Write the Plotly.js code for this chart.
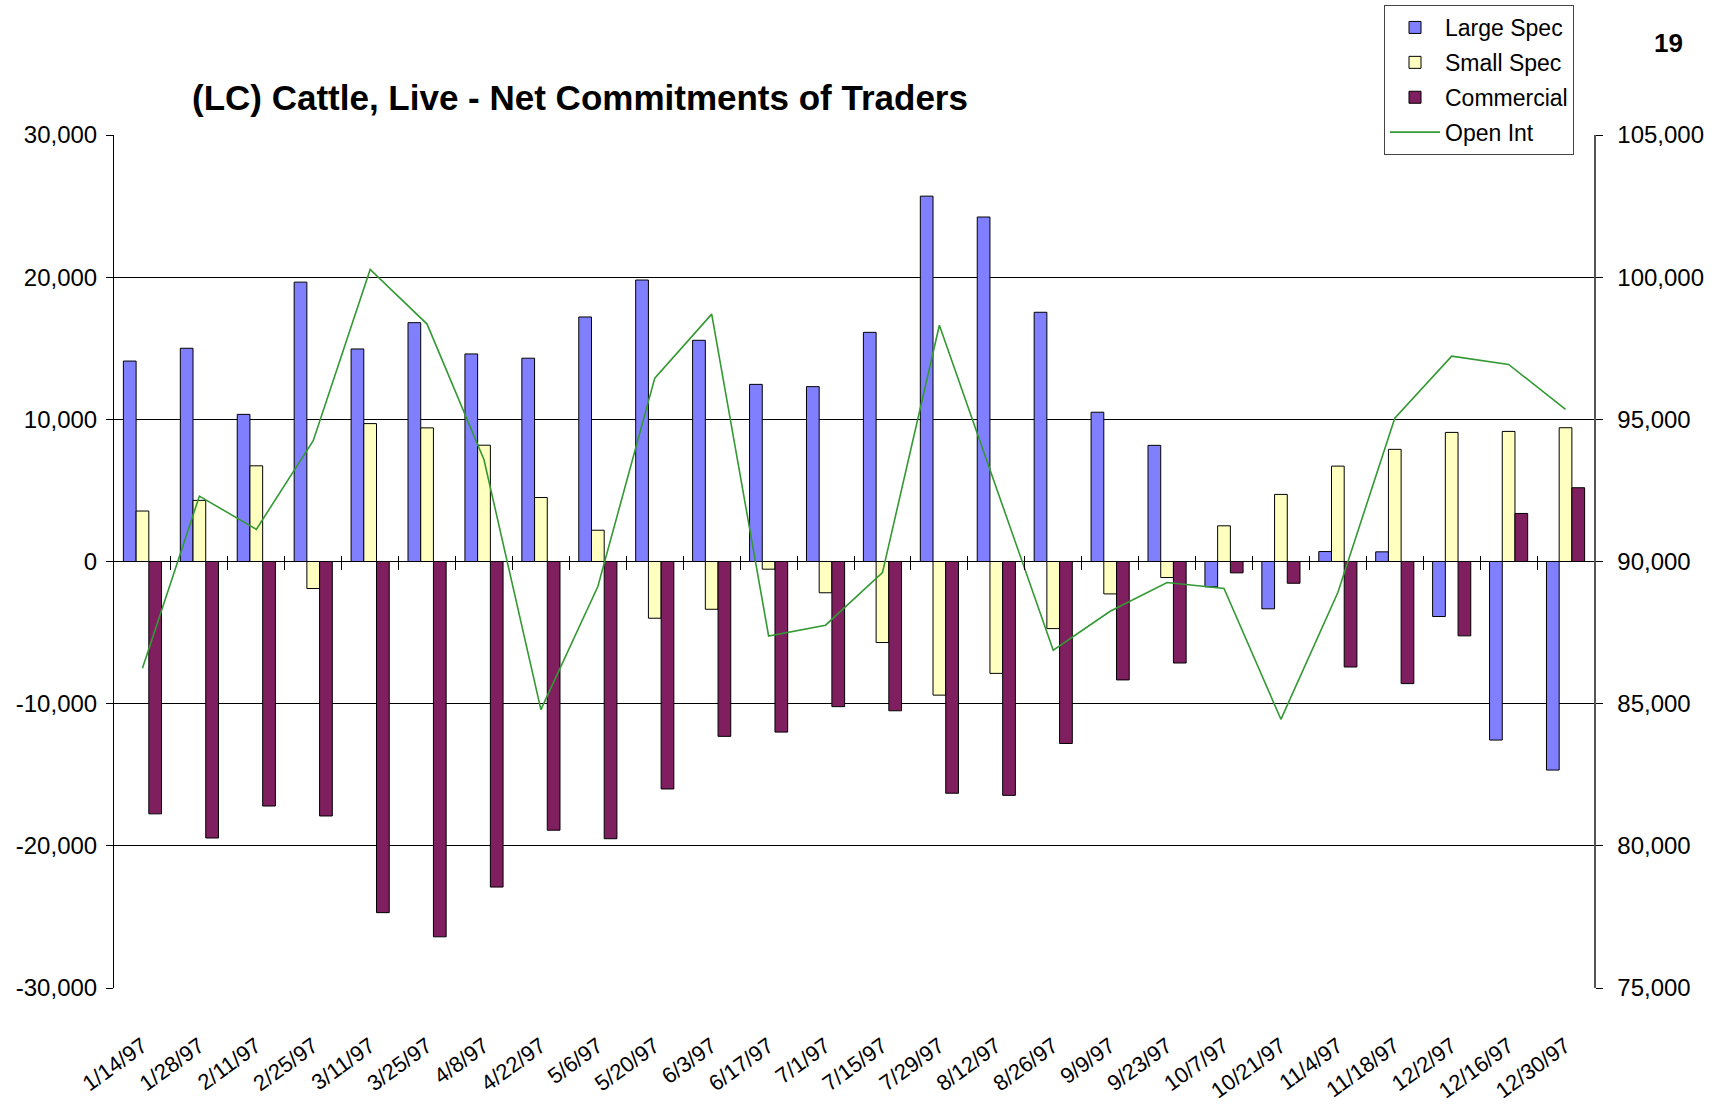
<!DOCTYPE html>
<html>
<head>
<meta charset="utf-8">
<script src="https://cdn.plot.ly/plotly-3.0.1.min.js"></script>
<style>
  html, body { margin: 0; padding: 0; background: #ffffff; }
  #chart { width: 1722px; height: 1108px; }
</style>
</head>
<body>
<div id="chart"></div>
<script>
const categories = ['1/14/97','1/28/97','2/11/97','2/25/97','3/11/97','3/25/97','4/8/97','4/22/97','5/6/97','5/20/97','6/3/97','6/17/97','7/1/97','7/15/97','7/29/97','8/12/97','8/26/97','9/9/97','9/23/97','10/7/97','10/21/97','11/4/97','11/18/97','12/2/97','12/16/97','12/30/97'];

const largeSpec = [14100, 15000, 10350, 19650, 14950, 16800, 14600, 14300, 17200, 19800, 15560, 12460, 12300, 16120, 25700, 24230, 17530, 10500, 8170, -1780, -3330, 700, 680, -3870, -12560, -14670];
const smallSpec = [3550, 4300, 6730, -1900, 9700, 9400, 8180, 4500, 2200, -3990, -3360, -540, -2200, -5700, -9400, -7870, -4720, -2280, -1130, 2510, 4720, 6710, 7890, 9080, 9150, 9410];
const commercial = [-17750, -19450, -17200, -17900, -24700, -26400, -22900, -18900, -19500, -16000, -12300, -12000, -10210, -10500, -16300, -16450, -12800, -8330, -7140, -800, -1530, -7420, -8590, -5230, 3380, 5190];
const openInt = [86250, 92300, 91130, 94250, 100270, 98350, 93580, 84790, 89120, 96450, 98700, 87380, 87760, 89610, 98310, 92600, 86880, 88250, 89260, 89050, 84450, 88910, 95040, 97220, 96930, 95350];

const seriesNames = ['Large Spec', 'Small Spec', 'Commercial', 'Open Int'];

const leftTickVals = [-30000, -20000, -10000, 0, 10000, 20000, 30000];
const leftTickText = ['-30,000', '-20,000', '-10,000', '0', '10,000', '20,000', '30,000'];
const rightTickVals = [75000, 80000, 85000, 90000, 95000, 100000, 105000];
const rightTickText = ['75,000', '80,000', '85,000', '90,000', '95,000', '100,000', '105,000'];

const chartTitle = '(LC) Cattle, Live - Net Commitments of Traders';
const pageNumber = '19';

const FONT = 'Liberation Sans, Arial, Helvetica, sans-serif';
const barLine = { color: '#000000', width: 1 };

// boundaries between categories (for the tick marks on the zero line)
const boundaryVals = categories.slice(1).map((_, i) => i + 0.5);

const traces = [
  { type: 'bar', name: seriesNames[0], x: categories, y: largeSpec, legendgroup: 'a',
    marker: { color: '#8080FF', line: barLine } },
  { type: 'bar', name: seriesNames[1], x: categories, y: smallSpec, legendgroup: 'b',
    marker: { color: '#FFFFC0', line: barLine } },
  { type: 'bar', name: seriesNames[2], x: categories, y: commercial, legendgroup: 'c',
    marker: { color: '#801F5F', line: barLine } },
  { type: 'scatter', mode: 'lines', name: seriesNames[3], x: categories, y: openInt, legendgroup: 'd',
    yaxis: 'y2', line: { color: '#339933', width: 1.6 } },
  // empty helper trace so the zero-line tick axis is drawn
  { type: 'scatter', mode: 'markers', x: [], y: [], xaxis: 'x2', yaxis: 'y',
    showlegend: false, hoverinfo: 'skip' }
];

const layout = {
  width: 1722,
  height: 1108,
  paper_bgcolor: '#ffffff',
  plot_bgcolor: '#ffffff',
  font: { family: FONT, size: 24, color: '#000000' },
  margin: { l: 114, r: 128, t: 135, b: 120, pad: 0, autoexpand: false },
  barmode: 'group',
  bargap: 0.33,
  bargroupgap: 0,
  showlegend: true,
  title: {
    text: chartTitle,
    font: { family: FONT, size: 35, color: '#000000', weight: 'bold' },
    xref: 'container', yref: 'container',
    x: 0.3368, xanchor: 'center',
    y: 0.9116, yanchor: 'middle'
  },
  xaxis: {
    type: 'category',
    categoryorder: 'array',
    categoryarray: categories,
    range: [-0.5, categories.length - 0.5],
    tickangle: -36,
    ticks: '',
    showgrid: false,
    showline: false,
    zeroline: false,
    automargin: false,
    ticklabelstandoff: 40,
    tickfont: { family: FONT, size: 22, color: '#000000' }
  },
  xaxis2: {
    overlaying: 'x',
    anchor: 'free',
    position: 0.5 + 7 / 853,
    type: 'linear',
    range: [-0.5, categories.length - 0.5],
    tickmode: 'array',
    tickvals: boundaryVals,
    ticks: 'outside',
    ticklen: 14,
    tickwidth: 1,
    tickcolor: '#000000',
    showticklabels: false,
    showgrid: false,
    showline: false,
    zeroline: false,
    automargin: false
  },
  yaxis: {
    range: [-30000, 30000],
    tickmode: 'array',
    tickvals: leftTickVals,
    ticktext: leftTickText,
    showgrid: true,
    gridcolor: '#000000',
    gridwidth: 1,
    zeroline: true,
    zerolinecolor: '#000000',
    zerolinewidth: 1.5,
    showline: true,
    linecolor: '#000000',
    linewidth: 1,
    ticks: 'outside',
    ticklen: 7,
    tickcolor: '#000000',
    ticklabelstandoff: 4,
    automargin: false,
    tickfont: { family: FONT, size: 24, color: '#000000' }
  },
  yaxis2: {
    overlaying: 'y',
    side: 'right',
    range: [75000, 105000],
    tickmode: 'array',
    tickvals: rightTickVals,
    ticktext: rightTickText,
    showgrid: false,
    zeroline: false,
    showline: true,
    linecolor: '#555555',
    linewidth: 1.5,
    ticks: 'outside',
    ticklen: 7,
    tickcolor: '#000000',
    ticklabelstandoff: 10,
    automargin: false,
    tickfont: { family: FONT, size: 24, color: '#000000' }
  },
  legend: {
    xref: 'container', yref: 'container',
    x: 1384 / 1722, xanchor: 'left',
    y: 1 - 5 / 1108, yanchor: 'top',
    bgcolor: '#ffffff',
    bordercolor: '#444444',
    borderwidth: 1,
    font: { family: FONT, size: 23, color: '#000000' },
    tracegroupgap: 2,
    itemwidth: 50,
    traceorder: 'grouped'
  },
  annotations: [
    { text: '<b>' + pageNumber + '</b>', xref: 'paper', yref: 'paper',
      x: (1668 - 114) / 1480, y: (988 - 43) / 853, xanchor: 'center', yanchor: 'middle', showarrow: false,
      font: { family: FONT, size: 26, color: '#000000' } }
  ]
};

Plotly.newPlot('chart', traces, layout, { displayModeBar: false, staticPlot: true });
</script>
</body>
</html>
